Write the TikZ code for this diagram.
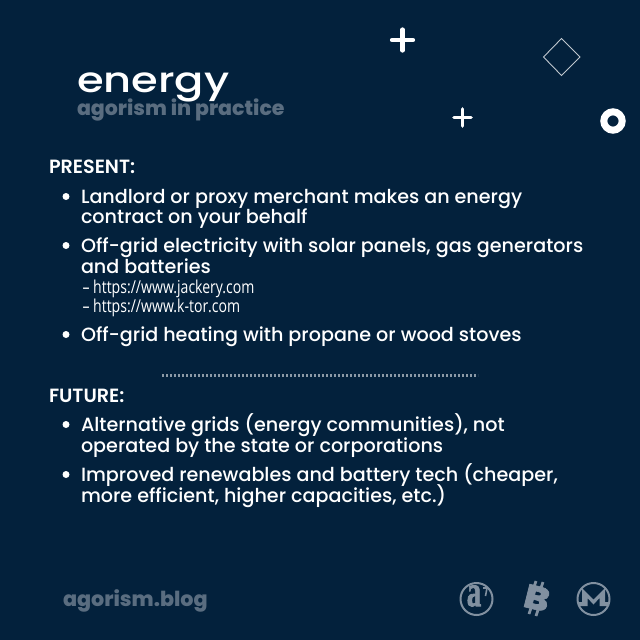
\documentclass[tikz,border=0pt]{standalone}
\usepackage{fontspec}
\usepackage{graphicx}
\setmainfont{Poppins}
\newfontfamily\popmed{Poppins Medium}
\newfontfamily\popsemi{Poppins SemiBold}
\newfontfamily\popbold{Poppins}[BoldFont=Poppins ExtraBold]
\newfontfamily\urlfont{Open Sans}[FakeStretch=0.79]
\newfontfamily\titlefont{Poppins Medium}[FakeStretch=1.08]
\newfontfamily\agfont{Liberation Serif Bold}[FakeBold=2]
\newfontfamily\btcfont{Poppins ExtraBold}[FakeBold=2]
\definecolor{bgnavy}{HTML}{03213C}
\definecolor{muted}{HTML}{5A6D80}
\definecolor{iconc}{HTML}{8190A0}
\tikzset{
  x=1pt,y=-1pt,
  line/.style={anchor=base west,inner sep=0pt,outer sep=0pt,text=white},
  body/.style={line,font=\popmed\fontsize{19.15}{21}\selectfont},
  head/.style={line,font=\popsemi\fontsize{19.15}{21}\selectfont},
  urlline/.style={line,font=\urlfont\fontsize{17.8}{20}\selectfont},
  bullet/.style={circle,fill=white,inner sep=0pt,minimum size=7pt},
  plus/.style={draw=white,line cap=round,line width=#1},
  icon/.style={draw=iconc,line width=2pt},
}
\begin{document}
\begin{tikzpicture}
\useasboundingbox (0,0) rectangle (640,640);
\fill[bgnavy] (0,0) rectangle (640,640);
% decorations
\draw[plus=4.2pt] (392,40) -- (413,40) (402.5,29.5) -- (402.5,50.5);
\draw[plus=3.6pt] (454,117.5) -- (471,117.5) (462.5,109) -- (462.5,126);
\draw[white!75!bgnavy,line width=0.9pt] (561.5,38.5) -- (580,57) -- (561.5,75.5) -- (543.5,57) -- cycle;
\draw[white,line width=7pt] (613,121) circle (9.2);
% title
\node[line,font=\titlefont\fontsize{40}{42}\selectfont] (title) at (77,92) {\scalebox{1}[0.88]{energy}};
\node[line,text=muted,font=\popbold\bfseries\fontsize{20.5}{22}\selectfont] (sub) at (77,115) {agorism in practice};
% present
\node[head] (present) at (49,173) {PRESENT:};
\node[bullet] (b1) at (66,196.5) {};
\node[body] (l1) at (81,203) {Landlord or proxy merchant makes an energy};
\node[body] (l2) at (81,223) {contract on your behalf};
\node[bullet] (b2) at (66,245.5) {};
\node[body] (l3) at (81,252) {Off-grid electricity with solar panels, gas generators};
\node[body] (l4) at (81,273) {and batteries};
\node[urlline] (u1) at (82.5,293) {– https://www.jackery.com};
\node[urlline] (u2) at (82.5,312) {– https://www.k-tor.com};
\node[bullet] (b3) at (66,334.5) {};
\node[body] (l5) at (81,341) {Off-grid heating with propane or wood stoves};
% divider
\draw[muted!70!white,line width=2.6pt,dash pattern=on 2.2pt off 1.8pt] (162,375.5) -- (478,375.5);
% future
\node[head] (future) at (49,402) {FUTURE:};
\node[bullet] (b4) at (66,424.5) {};
\node[body] (l6) at (81,431) {Alternative grids (energy communities), not};
\node[body] (l7) at (81,452) {operated by the state or corporations};
\node[bullet] (b5) at (66,474.5) {};
\node[body] (l8) at (81,481) {Improved renewables and battery tech (cheaper,};
\node[body] (l9) at (81,502) {more efficient, higher capacities, etc.)};
% footer
\node[line,text=muted,font=\popbold\bfseries\fontsize{20.7}{23}\selectfont] (blog) at (63,606.5) {agorism.blog};
% agorism icon
\draw[icon] (476.5,599) circle (16);
\node[inner sep=0pt,text=iconc,font=\agfont\fontsize{40}{40}\selectfont] (aglyph) at (474,596) {\scalebox{0.72}[1.1]{a}};
\draw[iconc,line width=1.6pt] (483,588) -- (487,588) -- (485.5,596);
% bitcoin icon
\node[inner sep=0pt,rotate=-14,text=iconc,font=\btcfont\fontsize{33}{33}\selectfont] (btc) at (537,598) {\scalebox{1.12}[1]{B}};
\draw[iconc,line width=2.8pt] (534,587) -- (536,581) (541,588) -- (543,582) (531,608) -- (529,614) (538,610) -- (536,616);
% monero icon
\draw[icon] (593.5,599) circle (16);
\fill[iconc] (578,606) -- (578,602) -- (582,602) -- (582,588) -- (593.5,599.5) -- (605,588) -- (605,602) -- (609,602) -- (609,606) -- (599.5,606) -- (599.5,598) -- (593.5,604.5) -- (587.5,598) -- (587.5,606) -- cycle;
\end{tikzpicture}
\end{document}
